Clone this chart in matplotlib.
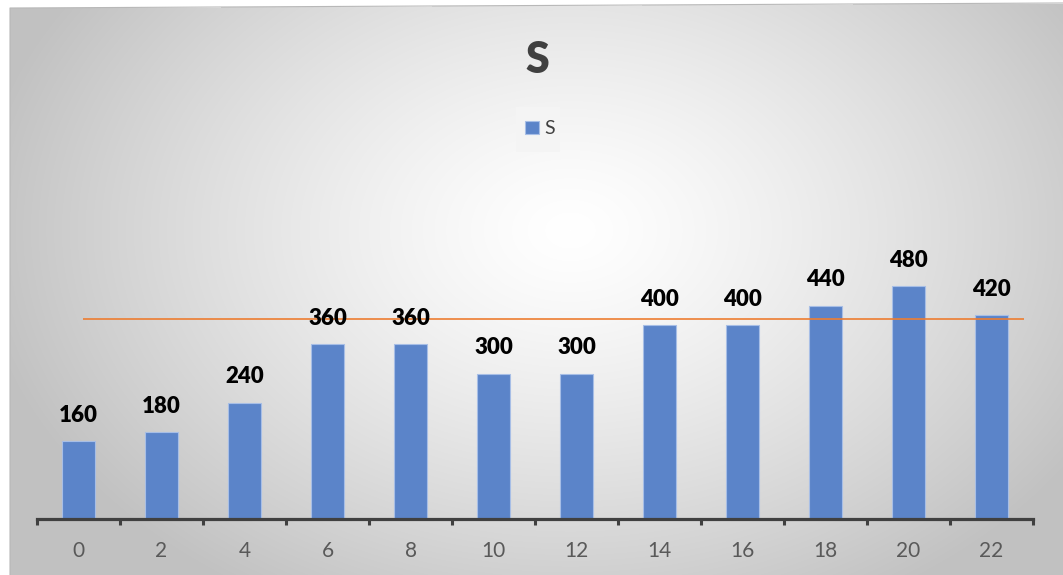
import numpy as np
import matplotlib
matplotlib.use("Agg")
import matplotlib.pyplot as plt
from matplotlib.patches import Rectangle

plt.rcParams['font.family'] = ['Lato', 'DejaVu Sans']

# Chart data
categories = ["0", "2", "4", "6", "8", "10", "12", "14", "16", "18", "20", "22"]
values = [160, 180, 240, 360, 360, 300, 300, 400, 400, 440, 480, 420]
series_name = "S"
reference_level = 412

W, H = 1063, 575
fig = plt.figure(figsize=(W / 100, H / 100), dpi=100)

# Radial grey-to-white backdrop of the chart area
bg_ax = fig.add_axes([0, 0, 1, 1], zorder=-10)
yy, xx = np.mgrid[0:H, 0:W]
cx, cy = 570.0, 230.0
d = np.sqrt(((xx - cx) / 600.0) ** 2 + ((yy - cy) / 430.0) ** 2)
shade = 255 - 62 * np.clip(d, 0, 1) ** 1.3
img = np.dstack([shade, shade, shade]) / 255.0
top_edge = 8 - 5 * (xx - 10) / (W - 10)
outside = (xx < 10) | (yy < top_edge)
img[outside] = 1.0
bg_ax.imshow(img, extent=(0, W, H, 0), aspect='auto', interpolation='bilinear')
bg_ax.plot([10, 10, W], [H, 8, 3], color='#B8B8B8', linewidth=0.8)
# pale panel behind the legend
bg_ax.add_patch(Rectangle((516, 107), 44, 45, facecolor='#F4F4F4',
                          edgecolor='none', zorder=5))
bg_ax.set_xlim(0, W)
bg_ax.set_ylim(H, 0)
bg_ax.axis('off')

# Plot area
left_px, right_px, base_px = 37, 1033, 519
px_per_unit = 0.485
ymax = 860
ax = fig.add_axes([left_px / W, 1 - base_px / H, (right_px - left_px) / W,
                   ymax * px_per_unit / H])
ax.set_facecolor('none')

x = np.arange(len(categories))
bars = ax.bar(x, values, width=0.386, color='#5B84C9', edgecolor='#A7BEE6',
              linewidth=0.8, label=series_name, zorder=2)

ax.hlines(reference_level, 0.05, len(categories) - 0.61, color='#ED7D31',
          linewidth=1.2, zorder=3)

for xi, v in zip(x, values):
    ax.annotate(f"{v}", (xi, v), xytext=(0, 18.5), textcoords='offset points',
                ha='center', va='center', fontsize=16, fontweight='heavy',
                color='black', zorder=4)

ax.set_xlim(-0.5, len(categories) - 0.5)
ax.set_ylim(0, ymax)
ax.set_xticks(x)
ax.set_xticklabels(categories)
ax.set_xticks(np.arange(len(categories) + 1) - 0.5, minor=True)
ax.tick_params(axis='x', which='major', length=0, pad=16, labelsize=15,
               labelcolor='#595959')
ax.tick_params(axis='x', which='minor', direction='out', length=4.5, width=2.2,
               color='#404040')
ax.set_yticks([])
for s in ('left', 'right', 'top'):
    ax.spines[s].set_visible(False)
ax.spines['bottom'].set_color('#404040')
ax.spines['bottom'].set_linewidth(2.3)

fig.text(537 / W, 1 - 60 / H, series_name, ha='center', va='center',
         fontsize=31, fontweight='heavy', color='#404040')

leg = ax.legend(loc='center', bbox_to_anchor=(540 / W, 1 - 129 / H),
                bbox_transform=fig.transFigure, frameon=False,
                fontsize=14, handlelength=0.7, handleheight=0.7,
                handletextpad=0.3, borderpad=0.0, labelcolor='#404040')

fig.savefig("out.png", dpi=100)
